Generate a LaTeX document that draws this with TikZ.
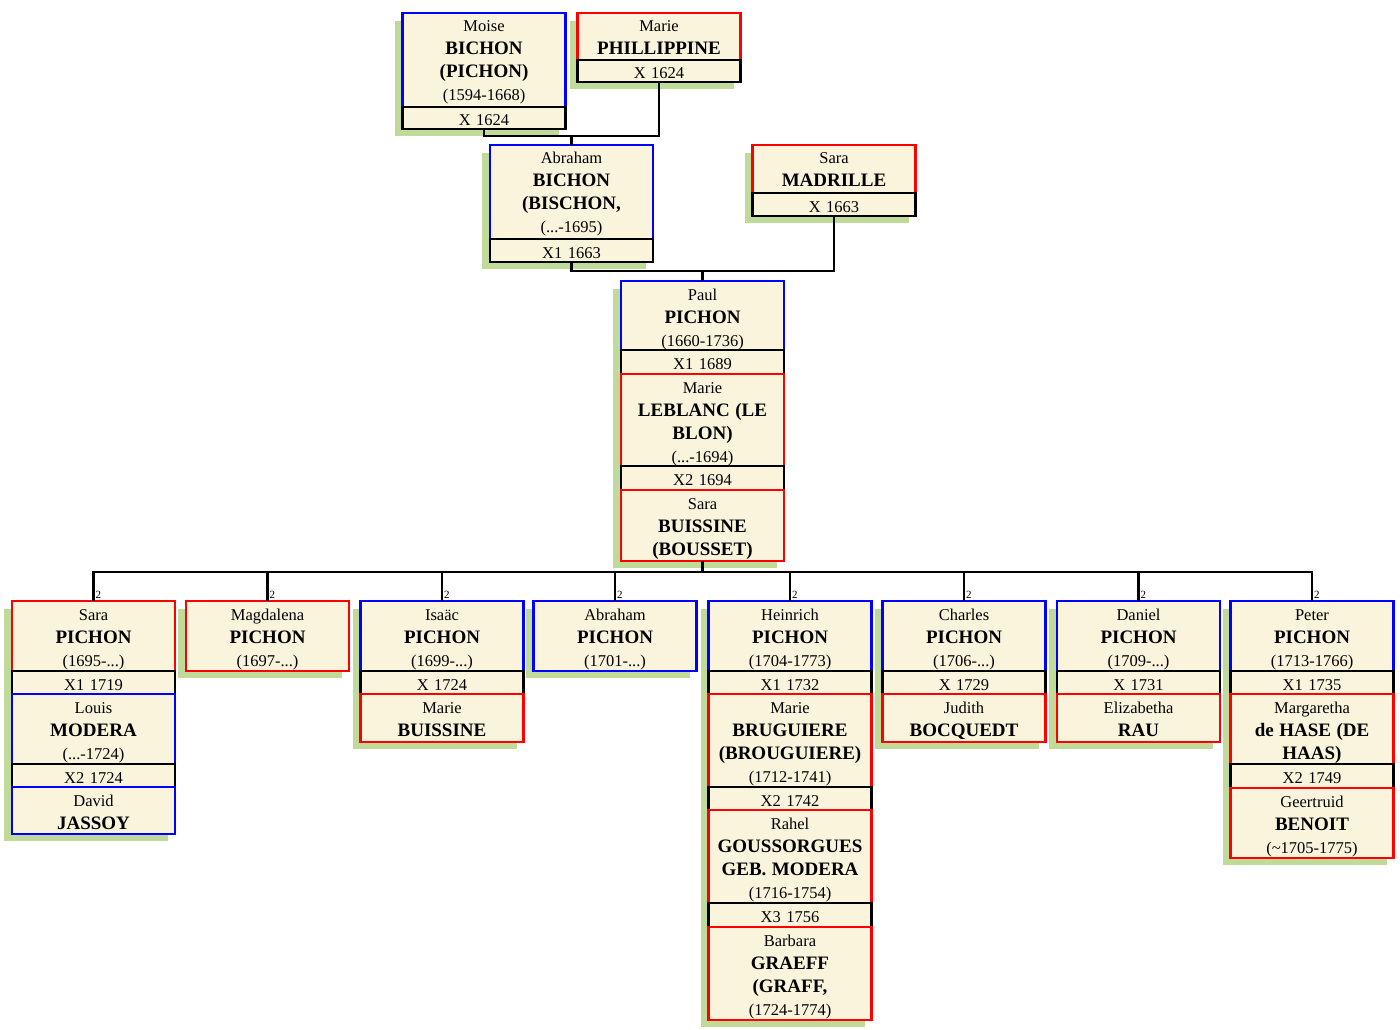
\documentclass[tikz,border=0pt]{standalone}
\usepackage{fontspec}
\setmainfont{Liberation Serif}
\usetikzlibrary{calc,backgrounds}
\definecolor{cream}{RGB}{250,244,220}
\definecolor{shadowgreen}{RGB}{192,218,154}
\definecolor{mblue}{RGB}{0,0,255}
\definecolor{mred}{RGB}{255,0,0}
\newcommand\nm[1]{{\fontsize{19}{23}\selectfont\bfseries #1}}
\tikzset{
  seg/.style={draw, line width=2.4pt, fill=cream, minimum width=163pt, text width=160pt,
    align=center, inner sep=0pt, outer sep=0pt, anchor=north,
    text height=19pt, /utils/exec={\pgfmathsetmacro\segdd{#1-19}}, text depth=\segdd pt,
    font=\fontsize{16.5}{23}\selectfont},
  man/.style={seg=#1, draw=mblue},
  woman/.style={seg=#1, draw=mred},
  wed/.style={seg=#1, draw=black},
  conn/.style={draw=black, line width=2.4pt},
  shade/.style={fill=shadowgreen},
  two/.style={font=\fontsize{11}{11}\selectfont, inner sep=0.5pt, anchor=south west}
}
\newcommand\shadow[2]{\fill[shade] ($(#1.north west)+(-8,8)$) rectangle ($(#2.south east)+(-7,7)$);}
\begin{document}
\begin{tikzpicture}[x=1pt,y=-1pt]
\useasboundingbox (0,0) rectangle (1400,1030);

% ---- generation 1
\node[man=94] (moise) at (484,13) {Moise\\\nm{BICHON}\\\nm{(PICHON)}\\(1594-1668)};
\node[wed=22] (xmoise) at (moise.south) {X 1624};
\node[woman=47] (mariep) at (659,13) {Marie\\\nm{PHILLIPPINE}};
\node[wed=22] (xmariep) at (mariep.south) {X 1624};

% ---- generation 2
\node[man=94] (abraham) at (571.5,145) {Abraham\\\nm{BICHON}\\\nm{(BISCHON,}\\(...-1695)};
\node[wed=23] (xabraham) at (abraham.south) {X1 1663};
\node[woman=48] (saram) at (834,145) {Sara\\\nm{MADRILLE}};
\node[wed=23] (xsaram) at (saram.south) {X 1663};

% ---- generation 3
\node[man=69] (paul) at (702.5,281) {Paul\\\nm{PICHON}\\(1660-1736)};
\node[wed=24] (xpaul1) at (paul.south) {X1 1689};
\node[woman=92] (mariel) at (xpaul1.south) {Marie\\\nm{LEBLANC (LE}\\\nm{BLON)}\\(...-1694)};
\node[wed=24] (xpaul2) at (mariel.south) {X2 1694};
\node[woman=71] (sarab) at (xpaul2.south) {Sara\\\nm{BUISSINE}\\\nm{(BOUSSET)}};

% ---- generation 4
\node[woman=70] (c1) at (93.5,601) {Sara\\\nm{PICHON}\\(1695-...)};
\node[wed=23] (c1x1) at (c1.south) {X1 1719};
\node[man=70] (c1s1) at (c1x1.south) {Louis\\\nm{MODERA}\\(...-1724)};
\node[wed=23] (c1x2) at (c1s1.south) {X2 1724};
\node[man=47] (c1s2) at (c1x2.south) {David\\\nm{JASSOY}};

\node[woman=70] (c2) at (267.5,601) {Magdalena\\\nm{PICHON}\\(1697-...)};

\node[man=70] (c3) at (442,601) {Isaäc\\\nm{PICHON}\\(1699-...)};
\node[wed=23] (c3x1) at (c3.south) {X 1724};
\node[woman=48] (c3s1) at (c3x1.south) {Marie\\\nm{BUISSINE}};

\node[man=70] (c4) at (615,601) {Abraham\\\nm{PICHON}\\(1701-...)};

\node[man=70] (c5) at (790,601) {Heinrich\\\nm{PICHON}\\(1704-1773)};
\node[wed=23] (c5x1) at (c5.south) {X1 1732};
\node[woman=93] (c5s1) at (c5x1.south) {Marie\\\nm{BRUGUIERE}\\\nm{(BROUGUIERE)}\\(1712-1741)};
\node[wed=23] (c5x2) at (c5s1.south) {X2 1742};
\node[woman=93] (c5s2) at (c5x2.south) {Rahel\\\nm{GOUSSORGUES}\\\nm{GEB. MODERA}\\(1716-1754)};
\node[wed=24] (c5x3) at (c5s2.south) {X3 1756};
\node[woman=93] (c5s3) at (c5x3.south) {Barbara\\\nm{GRAEFF}\\\nm{(GRAFF,}\\(1724-1774)};

\node[man=70] (c6) at (964,601) {Charles\\\nm{PICHON}\\(1706-...)};
\node[wed=23] (c6x1) at (c6.south) {X 1729};
\node[woman=48] (c6s1) at (c6x1.south) {Judith\\\nm{BOCQUEDT}};

\node[man=70] (c7) at (1138.5,601) {Daniel\\\nm{PICHON}\\(1709-...)};
\node[wed=23] (c7x1) at (c7.south) {X 1731};
\node[woman=48] (c7s1) at (c7x1.south) {Elizabetha\\\nm{RAU}};

\node[man=70] (c8) at (1312,601) {Peter\\\nm{PICHON}\\(1713-1766)};
\node[wed=23] (c8x1) at (c8.south) {X1 1735};
\node[woman=70] (c8s1) at (c8x1.south) {Margaretha\\\nm{de HASE (DE}\\\nm{HAAS)}};
\node[wed=24] (c8x2) at (c8s1.south) {X2 1749};
\node[woman=70] (c8s2) at (c8x2.south) {Geertruid\\\nm{BENOIT}\\(\textasciitilde1705-1775)};

% ---- shadows
\begin{scope}[on background layer]
\fill[white] (0,0) rectangle (1400,1030);
\shadow{moise}{xmoise}
\shadow{mariep}{xmariep}
\shadow{abraham}{xabraham}
\shadow{saram}{xsaram}
\shadow{paul}{sarab}
\shadow{c1}{c1s2}
\shadow{c2}{c2}
\shadow{c3}{c3s1}
\shadow{c4}{c4}
\shadow{c5}{c5s3}
\shadow{c6}{c6s1}
\shadow{c7}{c7s1}
\shadow{c8}{c8s2}
\end{scope}

% ---- connectors
\draw[conn] (xmariep.south) -- ++(0,54) -| (xmoise.south);
\draw[conn] (abraham.north) -- ++(0,-9);
\draw[conn] (xsaram.south) -- ++(0,55) -| (xabraham.south);
\draw[conn] (paul.north) -- ++(0,-10);
\draw[conn] (sarab.south) -- ++(0,11);
\draw[conn] (c1.north) -- ++(0,-29) -| (c8.north);
\foreach \c in {c2,c3,c4,c5,c6,c7}{\draw[conn] (\c.north) -- ++(0,-29);}
\foreach \c in {c1,c2,c3,c4,c5,c6,c7,c8}{\node[two] (two\c) at ($(\c.north)+(1.5,-1.5)$) {2};}
\end{tikzpicture}
\end{document}
